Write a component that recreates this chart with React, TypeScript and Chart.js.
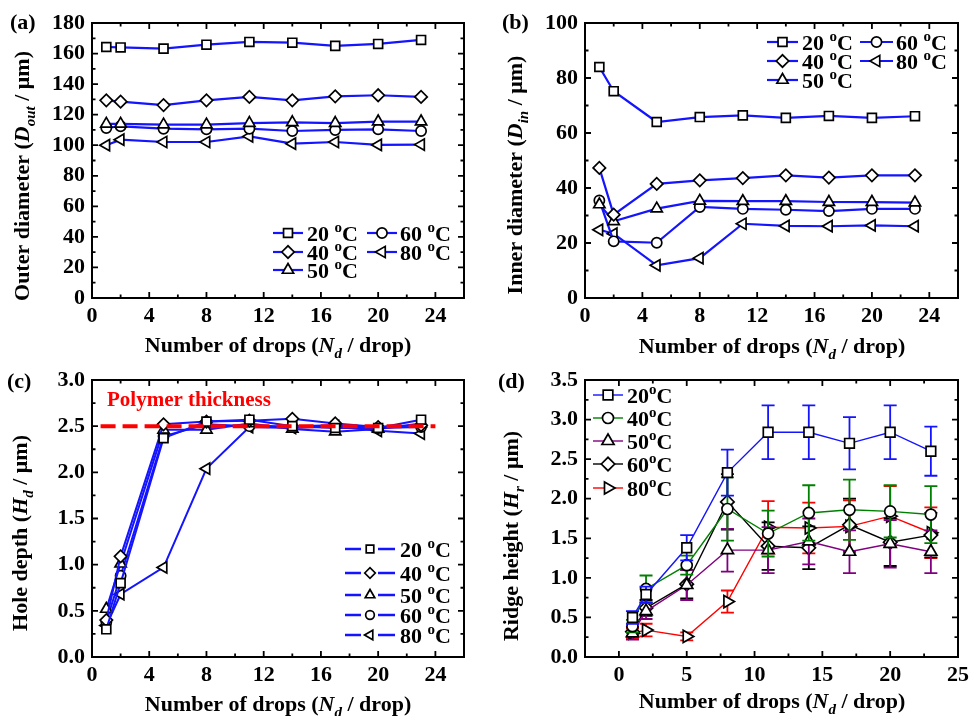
import React, { useEffect, useRef } from "react";
import { Chart, registerables } from "chart.js";

Chart.register(...registerables);

const W = 969;
const H = 716;
const FONT = "'Liberation Serif', 'Times New Roman', serif";
const BLUE = "rgb(20,20,255)";
const GREEN = "#008000";
const PURPLE = "#800080";
const BLACK = "#000000";
const RED = "#ff0000";

// ---------------- data ----------------
const drops = [1, 2, 5, 8, 11, 14, 17, 20, 23];
const tempNames = ["20", "40", "50", "60", "80"];

// (a) outer diameter (µm)
const outer20 = [164.3, 164.0, 163.2, 165.8, 167.6, 167.1, 165.0, 166.3, 168.9];
const outer40 = [129.4, 128.5, 126.3, 129.4, 131.6, 129.4, 132.0, 132.7, 131.6];
const outer50 = [114.0, 114.0, 113.5, 113.5, 114.5, 115.0, 114.5, 115.5, 115.5];
const outer60 = [111.3, 112.4, 110.8, 110.4, 110.8, 109.3, 110.0, 110.4, 109.3];
const outer80 = [100.0, 103.6, 102.1, 102.1, 105.8, 101.0, 102.1, 100.2, 100.4];

// (b) inner diameter (µm)
const inner20 = [84.0, 75.2, 64.0, 65.8, 66.4, 65.5, 66.2, 65.5, 66.1];
const inner40 = [47.3, 30.3, 41.5, 42.8, 43.6, 44.6, 43.8, 44.6, 44.6];
const inner50 = [34.0, 27.9, 32.5, 35.3, 35.2, 35.2, 34.9, 34.9, 34.7];
const inner60 = [35.5, 20.6, 20.1, 33.1, 32.4, 32.1, 31.6, 32.4, 32.4];
const inner80 = [24.8, 23.4, 11.9, 14.5, 27.0, 26.2, 26.1, 26.4, 26.1];

// (c) hole depth (µm)
const hole20 = [0.3, 0.8, 2.37, 2.55, 2.57, 2.5, 2.48, 2.48, 2.57];
const hole40 = [0.4, 1.09, 2.52, 2.55, 2.56, 2.58, 2.53, 2.49, 2.51];
const hole50 = [0.52, 1.01, 2.46, 2.46, 2.53, 2.47, 2.44, 2.47, 2.53];
const hole60 = [0.38, 0.88, 2.39, 2.52, 2.5, 2.5, 2.51, 2.48, 2.49];
const hole80 = [0.34, 0.68, 0.97, 2.04, 2.49, 2.48, 2.5, 2.45, 2.42];
const polymerThickness = 2.5;
const thicknessLineX = [0.6, 24];

// (d) ridge height (µm) with error bars
const ridge20 = [0.5, 0.79, 1.38, 2.33, 2.84, 2.84, 2.7, 2.84, 2.6];
const ridge40 = [0.39, 0.86, 1.16, 1.87, 1.56, 1.82, 1.86, 1.84, 1.8];
const ridge50 = [0.3, 0.58, 0.91, 1.35, 1.35, 1.46, 1.33, 1.43, 1.33];
const ridge60 = [0.32, 0.62, 0.92, 1.96, 1.4, 1.38, 1.67, 1.45, 1.54];
const ridge80 = [0.3, 0.34, 0.26, 0.7, 1.64, 1.63, 1.65, 1.78, 1.57];
const ridgeErr20 = [0.08, 0.1, 0.16, 0.29, 0.34, 0.34, 0.33, 0.34, 0.31];
const ridgeErr40 = [0.08, 0.17, 0.12, 0.4, 0.29, 0.35, 0.38, 0.33, 0.36];
const ridgeErr50 = [0.08, 0.1, 0.19, 0.27, 0.29, 0.29, 0.27, 0.3, 0.27];
const ridgeErr60 = [0.06, 0.1, 0.18, 0.35, 0.3, 0.27, 0.33, 0.3, 0.28];
const ridgeErr80 = [0.06, 0.08, 0.05, 0.14, 0.33, 0.32, 0.33, 0.38, 0.32];

// tick labels
const xTicks024 = [0, 4, 8, 12, 16, 20, 24];
const xTicksD = [0, 5, 10, 15, 20, 25];
const yTicksA = [0, 20, 40, 60, 80, 100, 120, 140, 160, 180];
const yTicksB = [0, 20, 40, 60, 80, 100];
const yTicksC = [0, 0.5, 1, 1.5, 2, 2.5, 3];
const yTicksD = [0, 0.5, 1, 1.5, 2, 2.5, 3, 3.5];

// ---------------- types ----------------
type Seg = { t: string; it?: boolean; sub?: boolean; sup?: boolean };
interface Series {
  name: string;
  values: number[];
  errors?: number[];
  style: "rect" | "circle" | "rectRot" | "triangle";
  rot: number;
  color: string;
}
interface LegendCol { x0: number; x1: number; tx: number; gap?: boolean }
interface Panel {
  id: string;
  label: string;
  labelPos: [number, number];
  area: { l: number; t: number; r: number; b: number };
  xMin: number; xMax: number; xTicks: number[];
  yMin: number; yMax: number; yTicks: number[];
  yDecimals: number;
  series: Series[];
  lineWidth: number;
  markerScale: number;
  xTitle: Seg[]; xTitlePos: [number, number];
  yTitle: Seg[]; yTitlePos: [number, number];
  legendCols: LegendCol[];
  legendRows: number[];
  legendPlace: [number, number][];
  legendSep: string;
  legendMarkerScale: number;
  legendLineWidth: number;
}

const xTitleSegs: Seg[] = [
  { t: "Number of drops (" },
  { t: "N", it: true },
  { t: "d", it: true, sub: true },
  { t: " / drop)" },
];

const baseSeries = (vals: number[][], color: string): Series[] => [
  { name: tempNames[0], values: vals[0], style: "rect", rot: 0, color },
  { name: tempNames[1], values: vals[1], style: "rectRot", rot: 0, color },
  { name: tempNames[2], values: vals[2], style: "triangle", rot: 0, color },
  { name: tempNames[3], values: vals[3], style: "circle", rot: 0, color },
  { name: tempNames[4], values: vals[4], style: "triangle", rot: -90, color },
];

const panels: Panel[] = [
  {
    id: "a", label: "(a)", labelPos: [10, 29],
    area: { l: 92, t: 23, r: 464, b: 298 },
    xMin: 0, xMax: 26, xTicks: xTicks024,
    yMin: 0, yMax: 180, yTicks: yTicksA, yDecimals: 0,
    series: baseSeries([outer20, outer40, outer50, outer60, outer80], BLUE),
    lineWidth: 2.2, markerScale: 1,
    xTitle: xTitleSegs, xTitlePos: [278, 352],
    yTitle: [{ t: "Outer diameter (" }, { t: "D", it: true }, { t: "out", it: true, sub: true }, { t: " / μm)" }],
    yTitlePos: [29, 176],
    legendCols: [{ x0: 273, x1: 303, tx: 307 }, { x0: 367, x1: 397, tx: 400 }],
    legendRows: [233, 252, 270],
    legendPlace: [[0, 0], [0, 1], [0, 2], [1, 0], [1, 1]],
    legendSep: " ", legendMarkerScale: 1, legendLineWidth: 2.2,
  },
  {
    id: "b", label: "(b)", labelPos: [502, 29],
    area: { l: 585, t: 23, r: 958, b: 298 },
    xMin: 0, xMax: 26, xTicks: xTicks024,
    yMin: 0, yMax: 100, yTicks: yTicksB, yDecimals: 0,
    series: baseSeries([inner20, inner40, inner50, inner60, inner80], BLUE),
    lineWidth: 2.2, markerScale: 1,
    xTitle: xTitleSegs, xTitlePos: [772, 353],
    yTitle: [{ t: "Inner diameter (" }, { t: "D", it: true }, { t: "in", it: true, sub: true }, { t: " / μm)" }],
    yTitlePos: [522, 175],
    legendCols: [{ x0: 767, x1: 798, tx: 802 }, { x0: 860, x1: 893, tx: 896 }],
    legendRows: [42, 61, 80],
    legendPlace: [[0, 0], [0, 1], [0, 2], [1, 0], [1, 1]],
    legendSep: " ", legendMarkerScale: 1, legendLineWidth: 2.2,
  },
  {
    id: "c", label: "(c)", labelPos: [7, 388],
    area: { l: 92, t: 380, r: 464, b: 657 },
    xMin: 0, xMax: 26, xTicks: xTicks024,
    yMin: 0, yMax: 3, yTicks: yTicksC, yDecimals: 1,
    series: baseSeries([hole20, hole40, hole50, hole60, hole80], BLUE),
    lineWidth: 2, markerScale: 1,
    xTitle: xTitleSegs, xTitlePos: [278, 711],
    yTitle: [{ t: "Hole depth (" }, { t: "H", it: true }, { t: "d", it: true, sub: true }, { t: " / μm)" }],
    yTitlePos: [27, 533],
    legendCols: [{ x0: 345, x1: 395, tx: 400, gap: true }],
    legendRows: [549, 573, 595, 615, 635],
    legendPlace: [[0, 0], [0, 1], [0, 2], [0, 3], [0, 4]],
    legendSep: " ", legendMarkerScale: 0.85, legendLineWidth: 2.6,
  },
  {
    id: "d", label: "(d)", labelPos: [498, 388],
    area: { l: 585, t: 380, r: 958, b: 657 },
    xMin: -2.5, xMax: 25, xTicks: xTicksD,
    yMin: 0, yMax: 3.5, yTicks: yTicksD, yDecimals: 1,
    series: [
      { name: tempNames[0], values: ridge20, errors: ridgeErr20, style: "rect", rot: 0, color: BLUE },
      { name: tempNames[1], values: ridge40, errors: ridgeErr40, style: "circle", rot: 0, color: GREEN },
      { name: tempNames[2], values: ridge50, errors: ridgeErr50, style: "triangle", rot: 0, color: PURPLE },
      { name: tempNames[3], values: ridge60, errors: ridgeErr60, style: "rectRot", rot: 0, color: BLACK },
      { name: tempNames[4], values: ridge80, errors: ridgeErr80, style: "triangle", rot: 90, color: RED },
    ],
    lineWidth: 1.4, markerScale: 1.08,
    xTitle: xTitleSegs, xTitlePos: [772, 708],
    yTitle: [{ t: "Ridge height (" }, { t: "H", it: true }, { t: "r", it: true, sub: true }, { t: " / μm)" }],
    yTitlePos: [518, 536],
    legendCols: [{ x0: 593, x1: 623, tx: 627 }],
    legendRows: [395, 418, 441, 464, 488],
    legendPlace: [[0, 0], [0, 1], [0, 2], [0, 3], [0, 4]],
    legendSep: "", legendMarkerScale: 1.08, legendLineWidth: 1.4,
  },
];

const baseRadius: Record<string, number> = { rect: 6.3, circle: 5.1, rectRot: 6.2, triangle: 6.5 };
const MARKER_BORDER = 1.7;

// ---------------- drawing helpers ----------------
function segFont(s: Seg, size: number) {
  const sz = s.sub || s.sup ? Math.round(size * 0.66) : size;
  return `${s.it ? "italic " : ""}bold ${sz}px ${FONT}`;
}
function richWidth(ctx: CanvasRenderingContext2D, segs: Seg[], size: number) {
  let w = 0;
  for (const s of segs) {
    ctx.font = segFont(s, size);
    w += ctx.measureText(s.t).width;
  }
  return w;
}
function drawRich(ctx: CanvasRenderingContext2D, segs: Seg[], x: number, y: number, size: number, align: "left" | "center", color = "#000") {
  let cx = align === "center" ? x - richWidth(ctx, segs, size) / 2 : x;
  ctx.textAlign = "left";
  ctx.textBaseline = "alphabetic";
  ctx.fillStyle = color;
  for (const s of segs) {
    ctx.font = segFont(s, size);
    const dy = s.sub ? size * 0.28 : s.sup ? -size * 0.4 : 0;
    ctx.fillText(s.t, cx, y + dy);
    cx += ctx.measureText(s.t).width;
  }
}
function drawMarker(ctx: CanvasRenderingContext2D, style: string, x: number, y: number, r: number, rotDeg: number) {
  ctx.beginPath();
  if (style === "rect") {
    const s = Math.SQRT1_2 * r;
    ctx.rect(x - s, y - s, 2 * s, 2 * s);
  } else if (style === "circle") {
    ctx.arc(x, y, r, 0, Math.PI * 2);
  } else if (style === "rectRot") {
    ctx.moveTo(x - r, y);
    ctx.lineTo(x, y - r);
    ctx.lineTo(x + r, y);
    ctx.lineTo(x, y + r);
    ctx.closePath();
  } else {
    let rad = (rotDeg * Math.PI) / 180;
    ctx.moveTo(x + Math.sin(rad) * r, y - Math.cos(rad) * r);
    rad += (2 * Math.PI) / 3;
    ctx.lineTo(x + Math.sin(rad) * r, y - Math.cos(rad) * r);
    rad += (2 * Math.PI) / 3;
    ctx.lineTo(x + Math.sin(rad) * r, y - Math.cos(rad) * r);
    ctx.closePath();
  }
  ctx.fillStyle = "#fff";
  ctx.fill();
  ctx.strokeStyle = "#000";
  ctx.lineWidth = MARKER_BORDER;
  ctx.stroke();
}

function minorTicks(major: number[], min: number, max: number) {
  const out: number[] = [];
  const step = major[1] - major[0];
  const first = major[0] - step / 2;
  for (let v = first; v <= max + 1e-9; v += step) {
    if (v >= min - 1e-9) out.push(v);
  }
  return out;
}

function makePlugin(p: Panel, dsSeries: (Series | null)[]) {
  return {
    id: "deco_" + p.id,
    beforeDatasetDraw(chart: any, args: any) {
      const s = dsSeries[args.index];
      if (!s || !s.errors) return;
      const ctx: CanvasRenderingContext2D = chart.ctx;
      const ys = chart.scales.y;
      ctx.save();
      ctx.strokeStyle = s.color;
      ctx.lineWidth = 1.8;
      args.meta.data.forEach((pt: any, i: number) => {
        const e = s.errors![i];
        const yt = ys.getPixelForValue(s.values[i] + e);
        const yb = ys.getPixelForValue(s.values[i] - e);
        ctx.beginPath();
        ctx.moveTo(pt.x, yt);
        ctx.lineTo(pt.x, yb);
        ctx.moveTo(pt.x - 6.5, yt);
        ctx.lineTo(pt.x + 6.5, yt);
        ctx.moveTo(pt.x - 6.5, yb);
        ctx.lineTo(pt.x + 6.5, yb);
        ctx.stroke();
      });
      ctx.restore();
    },
    afterDraw(chart: any) {
      const ctx: CanvasRenderingContext2D = chart.ctx;
      const a = chart.chartArea;
      const xs = chart.scales.x;
      const ys = chart.scales.y;
      ctx.save();
      // frame
      ctx.strokeStyle = "#000";
      ctx.lineWidth = 2;
      ctx.strokeRect(a.left, a.top, a.right - a.left, a.bottom - a.top);
      // ticks (inward, all sides)
      ctx.lineWidth = 1.8;
      const drawX = (vals: number[], len: number) => {
        for (const v of vals) {
          const px = xs.getPixelForValue(v);
          if (px < a.left - 0.5 || px > a.right + 0.5) continue;
          ctx.beginPath();
          ctx.moveTo(px, a.bottom);
          ctx.lineTo(px, a.bottom - len);
          ctx.moveTo(px, a.top);
          ctx.lineTo(px, a.top + len);
          ctx.stroke();
        }
      };
      const drawY = (vals: number[], len: number) => {
        for (const v of vals) {
          const py = ys.getPixelForValue(v);
          if (py < a.top - 0.5 || py > a.bottom + 0.5) continue;
          ctx.beginPath();
          ctx.moveTo(a.left, py);
          ctx.lineTo(a.left + len, py);
          ctx.moveTo(a.right, py);
          ctx.lineTo(a.right - len, py);
          ctx.stroke();
        }
      };
      drawX(p.xTicks, 6);
      drawX(minorTicks(p.xTicks, p.xMin, p.xMax), 3.5);
      drawY(p.yTicks, 6);
      drawY(minorTicks(p.yTicks, p.yMin, p.yMax), 3.5);

      // axis titles
      drawRich(ctx, p.xTitle, p.xTitlePos[0], p.xTitlePos[1], 22, "center");
      ctx.save();
      ctx.translate(p.yTitlePos[0], p.yTitlePos[1]);
      ctx.rotate(-Math.PI / 2);
      drawRich(ctx, p.yTitle, 0, 0, 22, "center");
      ctx.restore();

      // panel label
      drawRich(ctx, [{ t: p.label }], p.labelPos[0], p.labelPos[1], 22, "left");

      // extra annotation for (c)
      if (p.id === "c") {
        drawRich(ctx, [{ t: "Polymer thickness" }], 107, 406, 21, "left", RED);
      }

      // legend
      p.series.forEach((s, i) => {
        const [ci, ri] = p.legendPlace[i];
        const col = p.legendCols[ci];
        const y = p.legendRows[ri];
        const mx = (col.x0 + col.x1) / 2;
        ctx.strokeStyle = s.color;
        ctx.lineWidth = p.legendLineWidth;
        ctx.beginPath();
        if (col.gap) {
          ctx.moveTo(col.x0, y);
          ctx.lineTo(mx - 9, y);
          ctx.moveTo(mx + 8, y);
          ctx.lineTo(col.x1, y);
        } else {
          ctx.moveTo(col.x0, y);
          ctx.lineTo(col.x1, y);
        }
        ctx.stroke();
        drawMarker(ctx, s.style, mx, y, baseRadius[s.style] * p.legendMarkerScale, s.rot);
        drawRich(ctx, [{ t: s.name + p.legendSep }, { t: "o", sup: true }, { t: "C" }], col.tx, y + 7.5, 22, "left");
      });
      ctx.restore();
    },
  };
}

function buildConfig(p: Panel): any {
  const XH = 40;
  const YW = 50;
  const dsSeries: (Series | null)[] = [];
  const datasets: any[] = [];
  if (p.id === "c") {
    datasets.push({
      data: thicknessLineX.map((x) => ({ x, y: polymerThickness })),
      borderColor: RED,
      borderWidth: 4,
      borderDash: [15, 7],
      pointRadius: 0,
      fill: false,
      tension: 0,
    });
    dsSeries.push(null);
  }
  for (const s of p.series) {
    datasets.push({
      label: s.name,
      data: drops.map((x, i) => ({ x, y: s.values[i] })),
      borderColor: s.color,
      borderWidth: p.lineWidth,
      pointStyle: s.style,
      pointRotation: s.rot,
      pointRadius: baseRadius[s.style] * p.markerScale,
      pointBorderColor: "#000",
      pointBackgroundColor: "#fff",
      pointBorderWidth: MARKER_BORDER,
      fill: false,
      tension: 0,
    });
    dsSeries.push(s);
  }
  const tickFont = { family: FONT, size: 22, weight: "bold" as const };
  return {
    type: "line",
    data: { datasets },
    options: {
      animation: false,
      responsive: false,
      devicePixelRatio: 1,
      events: [],
      layout: {
        padding: {
          left: p.area.l - YW,
          right: W - p.area.r,
          top: p.area.t,
          bottom: H - p.area.b - XH,
        },
      },
      plugins: { legend: { display: false }, tooltip: { enabled: false }, title: { display: false } },
      scales: {
        x: {
          type: "linear",
          min: p.xMin,
          max: p.xMax,
          grid: { display: false, drawTicks: false },
          border: { display: false },
          ticks: { font: tickFont, color: "#000", padding: 5, maxRotation: 0, autoSkip: false, includeBounds: false },
          afterBuildTicks: (sc: any) => {
            sc.ticks = p.xTicks.map((v) => ({ value: v }));
          },
          afterFit: (sc: any) => {
            sc.height = XH;
            sc.paddingLeft = 0;
            sc.paddingRight = 0;
          },
        },
        y: {
          type: "linear",
          min: p.yMin,
          max: p.yMax,
          grid: { display: false, drawTicks: false },
          border: { display: false },
          ticks: {
            font: tickFont,
            color: "#000",
            padding: 7,
            autoSkip: false,
            includeBounds: false,
            callback: (v: number) => Number(v).toFixed(p.yDecimals),
          },
          afterBuildTicks: (sc: any) => {
            sc.ticks = p.yTicks.map((v) => ({ value: v }));
          },
          afterFit: (sc: any) => {
            sc.width = YW;
            sc.paddingTop = 0;
            sc.paddingBottom = 0;
          },
        },
      },
    },
    plugins: [makePlugin(p, dsSeries)],
  };
}

function PanelChart({ panel }: { panel: Panel }) {
  const ref = useRef<HTMLCanvasElement>(null);
  useEffect(() => {
    const chart = new Chart(ref.current as HTMLCanvasElement, buildConfig(panel));
    return () => chart.destroy();
  }, [panel]);
  return (
    <canvas
      ref={ref}
      width={W}
      height={H}
      style={{ position: "absolute", left: 0, top: 0, width: W, height: H }}
    />
  );
}

export default function App() {
  return (
    <div style={{ position: "absolute", left: 0, top: 0, width: W, height: H, background: "#fff", overflow: "hidden" }}>
      {panels.map((p) => (
        <PanelChart key={p.id} panel={p} />
      ))}
    </div>
  );
}
